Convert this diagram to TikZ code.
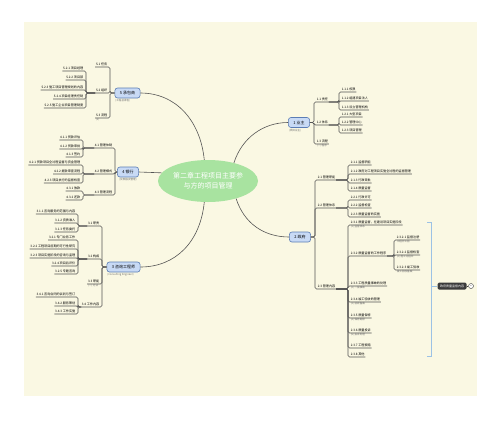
\documentclass[tikz,border=0pt]{standalone}
\usepackage{fontspec}
\newfontfamily\cjk{Noto Sans CJK SC}
\usetikzlibrary{positioning, shapes.geometric, calc}
\definecolor{paper}{HTML}{FAF8E3}
\definecolor{rootg}{HTML}{A8E3A0}
\definecolor{topicf}{HTML}{C8DAF5}
\definecolor{topicb}{HTML}{5B7DB5}
\definecolor{linkc}{HTML}{555555}
\definecolor{notec}{HTML}{6E6E6E}
\definecolor{sumc}{HTML}{9CC2E5}
\definecolor{darkc}{HTML}{3B3B3B}

\tikzset{
  root/.style={ellipse, fill=rootg, text=white, align=center, inner sep=0pt,
               minimum width=100pt, minimum height=42pt,
               font=\cjk\fontsize{7}{10}\selectfont},
  topic/.style={draw=topicb, fill=topicf, line width=0.6pt, rounded corners=2.5pt,
                minimum height=10pt, inner xsep=5pt, inner ysep=0pt,
                font=\cjk\fontsize{4}{4.8}\selectfont},
  leaf/.style={inner xsep=0.6pt, inner ysep=0.8pt, font=\cjk\fontsize{3.1}{3.7}\selectfont},
  note/.style={inner xsep=0.6pt, inner ysep=0.4pt, text=notec,
               font=\cjk\fontsize{2.6}{3}\selectfont},
  link/.style={draw=linkc, line width=0.6pt, rounded corners=1.5pt},
  sumbox/.style={fill=darkc, text=white, rounded corners=1.5pt, minimum height=7pt,
                 inner xsep=2.5pt, inner ysep=0pt, font=\cjk\fontsize{3}{3.6}\selectfont},
}

\begin{document}
\begin{tikzpicture}[x=1pt, y=-1pt]
  \useasboundingbox (0,0) rectangle (500,421);
  \fill[paper] (24,22) rectangle (477,396);

  % centre and main topics
  \node[root] (root) at (208,181) {第二章工程项目主要参\\与方的项目管理};
  \node[topic] (n1) at (299,122.5) {1 业主};
  \node[topic] (n2) at (300,237) {2 政府};
  \node[topic] (n3) at (123.5,267) {3 咨询工程师};
  \node[topic] (n4) at (128,172) {4 银行};
  \node[topic] (n5) at (127.5,93) {5 承包商};
  \node[note, anchor=north west] (n1c) at ([yshift=-0.5pt]n1.south west) {(项目业主)};
  \node[note, anchor=north west] (n3c) at ([yshift=-0.5pt]n3.south west) {(Consulting Engineer)};
  \node[note, anchor=north] (n4c) at ([yshift=-0.5pt]n4.south) {(贷款融资管理)};
  \node[note, anchor=north west] (n5c) at ([yshift=-0.5pt]n5.south west) {(工程总承包)};

  \draw[link] (root.35) .. controls +(8,-25) and +(-25,0) .. (n1.west);
  \draw[link] (root.-32) .. controls +(8,25) and +(-25,0) .. (n2.west);
  \draw[link] (root.-100) .. controls +(-4,40) and +(35,0) .. (n3.east);
  \draw[link] (root.170) -- (n4.east);
  \draw[link] (root.100) .. controls +(-4,-40) and +(35,0) .. (n5.east);

  % 1 业主
  \coordinate (b1) at (314,0);
  \coordinate (b11) at (339,0);
  \foreach \nm/\yy/\txt in {n11/102/1.1 责任, n12/125/1.2 体系, n13/144/1.3 流程}{
    \node[leaf, anchor=south west] (\nm) at (316,\yy) {\txt};
    \draw[link] (n1.east) -- (b1 |- n1.east) |- (\nm.south east);
  }
  \foreach \nm/\yy/\txt in {n111/92/1.1.1 权限, n112/101/1.1.2 组建项目法人, n113/110/1.1.3 设立管理机构}{
    \node[leaf, anchor=south west] (\nm) at (341,\yy) {\txt};
    \draw[link] (n11.south east) -- (b11 |- n11.south east) |- (\nm.south east);
  }
  \foreach \nm/\yy/\txt in {n121/117/1.2.1 大型项目, n122/125/1.2.2 管理中心, n123/133/1.2.3 项目管理}{
    \node[leaf, anchor=south west] (\nm) at (341,\yy) {\txt};
    \draw[link] (n12.south east) -- (b11 |- n12.south east) |- (\nm.south east);
  }
  \node[note, anchor=north west] (c13) at (n13.south west) {(一) 程序};

  % 2 政府
  \coordinate (b2) at (315,0);
  \coordinate (b21) at (348,0);
  \coordinate (b232) at (394,0);
  \foreach \nm/\yy/\txt in {n21/180/2.1 管理职能, n22/208/2.2 管理体系, n23/289/2.3 管理内容}{
    \node[leaf, anchor=south west] (\nm) at (317,\yy) {\txt};
    \draw[link] (n2.east) -- (b2 |- n2.east) |- (\nm.south east);
  }
  \foreach \nm/\yy/\txt in {n211/165/2.1.1 监督职能, n212/174/2.1.2 政府对工程项目实施全过程的监督管理,
                           n213/183/2.1.3 行政审批, n214/191/2.1.4 质量监督}{
    \node[leaf, anchor=south west] (\nm) at (350,\yy) {\txt};
    \draw[link] (n21.south east) -- (b21 |- n21.south east) |- (\nm.south east);
  }
  \foreach \nm/\yy/\txt in {n221/200/2.2.1 行政许可, n222/208/2.2.2 监督检查, n223/217/2.2.3 质量监督的实施}{
    \node[leaf, anchor=south west] (\nm) at (350,\yy) {\txt};
    \draw[link] (n22.south east) -- (b21 |- n22.south east) |- (\nm.south east);
  }
  \foreach \nm/\yy/\txt in {n231/225/2.3.1 质量监督，在建设项目实施阶段, n232/256/2.3.2 质量监督的工作程序,
                           n233/286/2.3.3 工程质量事故的处理, n234/302/2.3.4 竣工验收的管理,
                           n235/318/2.3.5 质量保修, n236/333/2.3.6 质量投诉,
                           n237/348/2.3.7 工程索赔, n238/357/2.3.8 其他}{
    \node[leaf, anchor=south west] (\nm) at (350,\yy) {\txt};
    \draw[link] (n23.south east) -- (b21 |- n23.south east) |- (\nm.south east);
  }
  \foreach \nm/\yy/\txt in {n2321/240/2.3.2.1 监督注册, n2322/255/2.3.2.2 监督检查, n2323/270/2.3.2.3 竣工验收}{
    \node[leaf, anchor=south west] (\nm) at (396,\yy) {\txt};
    \draw[link] (n232.south east) -- (b232 |- n232.south east) |- (\nm.south east);
  }
  \foreach \nm/\txt in {n231/(1) 监督体系, n2321/工程开工前, n2322/(2) 施工过程中, n2323/竣工验收备案,
                        n233/(2) 一般事故, n234/(3) 验收备案, n235/(4) 保修期限, n236/(5) 投诉处理}
    \node[note, anchor=north west] (c\nm) at (\nm.south west) {\txt};

  % summary of 2.3
  \coordinate (st) at (431,222);
  \coordinate (sb) at (431,356);
  \node[sumbox] (sum) at (452,286) {政府质量监督内容};
  \node[circle, draw=darkc, fill=white, line width=0.4pt, minimum size=5pt, inner sep=0pt,
        font=\fontsize{4}{4}\selectfont] (fold) at (471,286) {-};
  \draw[sumc, line width=0.8pt] ([xshift=-4pt]st) -- (st) -- (sb) -- ([xshift=-4pt]sb);
  \draw[sumc, line width=0.8pt] (sum.west -| st) -- (sum.west);
  \draw[darkc, line width=0.4pt] (sum.east) -- (fold.west);

  % 3 咨询工程师
  \coordinate (b3) at (102,0);
  \coordinate (b31) at (78,0);
  \foreach \nm/\yy/\txt in {n31/226/3.1 职责, n32/259/3.2 构成, n33/284/3.3 职能, n34/307/3.4 工作内容}{
    \node[leaf, anchor=south east] (\nm) at (100,\yy) {\txt};
    \draw[link] (n3.west) -- (b3 |- n3.west) |- (\nm.south west);
  }
  \foreach \nm/\yy/\txt in {n311/214/3.1.1 咨询服务的范围与内容, n312/223/3.1.2 资质准入, n313/232/3.1.3 任务委托}{
    \node[leaf, anchor=south east] (\nm) at (76,\yy) {\txt};
    \draw[link] (n31.south west) -- (b31 |- n31.south west) |- (\nm.south west);
  }
  \foreach \nm/\yy/\txt in {n321/240/3.2.1 专门业务工作, n322/249/3.2.2 工程项目前期的可行性研究,
                           n323/258/3.2.3 项目实施阶段的咨询与监理, n324/266/3.2.4 项目后评价,
                           n325/274/3.2.5 专题咨询}{
    \node[leaf, anchor=south east] (\nm) at (76,\yy) {\txt};
    \draw[link] (n32.south west) -- (b31 |- n32.south west) |- (\nm.south west);
  }
  \foreach \nm/\yy/\txt in {n341/297/3.4.1 咨询合同的谈判与签订, n342/306/3.4.2 服务策划, n343/314/3.4.3 工作实施}{
    \node[leaf, anchor=south east] (\nm) at (76,\yy) {\txt};
    \draw[link] (n34.south west) -- (b31 |- n34.south west) |- (\nm.south west);
  }
  \node[note, anchor=north west] (c33) at (n33.south west) {(一) 方法};

  % 4 银行
  \coordinate (b4) at (115,0);
  \coordinate (b41) at (83,0);
  \foreach \nm/\yy/\txt in {n41/148/4.1 管理体制, n42/174/4.2 管理模式, n43/195/4.3 管理流程}{
    \node[leaf, anchor=south east] (\nm) at (113,\yy) {\txt};
    \draw[link] (n4.west) -- (b4 |- n4.west) |- (\nm.south west);
  }
  \foreach \nm/\yy/\txt in {n411/140/4.1.1 贷款评估, n412/149/4.1.2 贷款审批, n413/157/4.1.3 签约}{
    \node[leaf, anchor=south east] (\nm) at (81,\yy) {\txt};
    \draw[link] (n41.south west) -- (b41 |- n41.south west) |- (\nm.south west);
  }
  \foreach \nm/\yy/\txt in {n421/165/4.2.1 贷款项目全过程监督与资金管理, n422/174/4.2.2 提款审查流程,
                           n423/183/4.2.3 项目执行的监督检查}{
    \node[leaf, anchor=south east] (\nm) at (81,\yy) {\txt};
    \draw[link] (n42.south west) -- (b41 |- n42.south west) |- (\nm.south west);
  }
  \foreach \nm/\yy/\txt in {n431/191/4.3.1 放款, n432/200/4.3.2 还款}{
    \node[leaf, anchor=south east] (\nm) at (81,\yy) {\txt};
    \draw[link] (n43.south west) -- (b41 |- n43.south west) |- (\nm.south west);
  }

  % 5 承包商
  \coordinate (b5) at (110,0);
  \coordinate (b52) at (86,0);
  \foreach \nm/\yy/\txt in {n51/67/5.1 任务, n52/93/5.2 组织, n53/118/5.3 流程}{
    \node[leaf, anchor=south east] (\nm) at (108,\yy) {\txt};
    \draw[link] (n5.west) -- (b5 |- n5.west) |- (\nm.south west);
  }
  \foreach \nm/\yy/\txt in {n521/71/5.2.1 项目经理, n522/80/5.2.2 项目部, n523/90/5.2.3 施工项目管理规划的内容,
                           n524/99/5.2.4 项目经理责任制, n525/108/5.2.5 施工企业项目管理制度}{
    \node[leaf, anchor=south east] (\nm) at (84,\yy) {\txt};
    \draw[link] (n52.south west) -- (b52 |- n52.south west) |- (\nm.south west);
  }
  \node[note, anchor=north west] (c53) at (n53.south west) {(3)};
\end{tikzpicture}
\end{document}
